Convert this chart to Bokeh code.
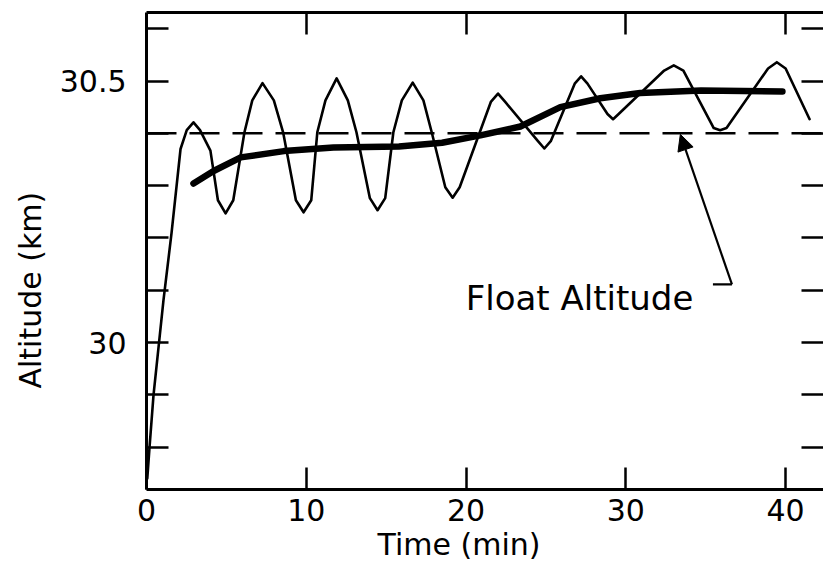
from bokeh.plotting import figure
from bokeh.models import (FixedTicker, LinearAxis, Span, Label, Arrow, NormalHead,
                          Range1d, Title)
from bokeh.embed import file_html
from bokeh.resources import INLINE

# Balloon altitude record: raw (oscillating) trace and smoothed trace
raw_time = [0.05, 0.19, 0.44, 1.06, 1.57, 2.13, 2.52, 2.94, 3.35,
            4.00, 4.47, 4.95, 5.43,
            6.13, 6.62, 7.26, 7.97, 8.55,
            9.35, 9.83, 10.31,
            10.69, 11.20, 11.90, 12.60, 13.14,
            13.98, 14.46, 14.94,
            15.45, 15.98, 16.66, 17.33, 17.85,
            18.70, 19.16, 19.60,
            21.55, 22.00, 22.45,
            24.50, 24.90, 25.30,
            26.80, 27.20, 27.60,
            28.85, 29.20, 29.55,
            32.40, 33.00, 33.60,
            35.50, 35.90, 36.30,
            38.90, 39.45, 40.00,
            41.50]
raw_alt = [29.74, 29.80, 29.90, 30.08, 30.21, 30.37, 30.406, 30.421, 30.406,
           30.367, 30.272, 30.247, 30.272,
           30.402, 30.463, 30.496, 30.463, 30.402,
           30.272, 30.249, 30.272,
           30.402, 30.463, 30.505, 30.463, 30.402,
           30.276, 30.253, 30.276,
           30.402, 30.463, 30.497, 30.463, 30.402,
           30.297, 30.277, 30.297,
           30.460, 30.476, 30.460,
           30.385, 30.371, 30.385,
           30.495, 30.509, 30.495,
           30.437, 30.427, 30.437,
           30.520, 30.530, 30.520,
           30.410, 30.406, 30.410,
           30.524, 30.536, 30.524,
           30.427]

smooth_time = [2.94, 4.2, 5.9, 8.6, 11.7, 15.8, 18.5, 20.9, 23.4, 25.9,
               28.4, 30.9, 34.7, 39.8]
smooth_alt = [30.304, 30.328, 30.354, 30.366, 30.373, 30.375, 30.382, 30.396,
              30.413, 30.450, 30.467, 30.477, 30.482, 30.480]

float_altitude = 30.40

x_ticks = [0, 10, 20, 30, 40]
y_major = [30.0, 30.5]
y_minor = [29.8, 29.9, 30.1, 30.2, 30.3, 30.4, 30.6]
y_tick_labels = {30.0: "30", 30.5: "30.5"}

FONT = "DejaVu Sans"

p = figure(width=823, height=576, output_backend="svg", toolbar_location=None,
           x_axis_location=None, y_axis_location=None,
           min_border_left=146, min_border_right=0, min_border_top=12,
           min_border_bottom=87)
p.x_range = Range1d(0, 42.37)
p.y_range = Range1d(29.719, 30.631)
p.outline_line_color = None
p.xgrid.visible = False
p.ygrid.visible = False
p.background_fill_color = "white"
p.border_fill_color = "white"


def style_axis(ax, show_line=True):
    ax.major_tick_in = 22
    ax.major_tick_out = 0
    ax.minor_tick_in = 22
    ax.minor_tick_out = 0
    ax.major_tick_line_width = 2.5
    ax.minor_tick_line_width = 2.5
    ax.major_tick_line_color = "black"
    ax.minor_tick_line_color = "black"
    ax.axis_line_width = 3
    ax.axis_line_color = "black" if show_line else None
    ax.major_label_text_font = FONT
    ax.major_label_text_font_size = "30px"
    ax.major_label_text_color = "black"


# bottom axis with labels; top axis carries tick marks only
bottom = LinearAxis(ticker=FixedTicker(ticks=x_ticks))
style_axis(bottom)
bottom.major_label_standoff = 9
p.add_layout(bottom, "below")

top = LinearAxis(ticker=FixedTicker(ticks=[], minor_ticks=x_ticks[1:]))
style_axis(top)
top.major_label_standoff = 0
p.add_layout(top, "above")

# left altitude axis with labels; right side has tick marks only
left = LinearAxis(ticker=FixedTicker(ticks=y_major, minor_ticks=y_minor),
                  major_label_overrides=y_tick_labels)
style_axis(left)
left.major_label_standoff = 20
p.add_layout(left, "left")

right = LinearAxis(ticker=FixedTicker(ticks=[], minor_ticks=y_major + y_minor))
style_axis(right, show_line=False)
right.major_label_standoff = 0
p.add_layout(right, "right")

# axis titles
p.add_layout(Title(text="Altitude (km)", align="left", offset=101, standoff=18,
                   text_font=FONT, text_font_size="30px", text_font_style="normal",
                   text_color="black"), "left")
p.add_layout(Title(text="Time (min)", align="left", offset=231, standoff=2,
                   text_font=FONT, text_font_size="30px", text_font_style="normal",
                   text_color="black"), "below")

# float altitude reference
p.add_layout(Span(location=float_altitude, dimension="width", line_color="black",
                  line_width=2.5, line_dash="30 13"))

# traces
p.line(raw_time, raw_alt, line_color="black", line_width=2.6,
       line_join="round", line_cap="round")
p.line(smooth_time, smooth_alt, line_color="black", line_width=6.5,
       line_join="round", line_cap="round")

# annotation with leader
p.line([35.45, 36.64], [30.111, 30.111], line_color="black", line_width=2.2)
p.add_layout(Arrow(x_start=36.64, y_start=30.111, x_end=33.41, y_end=float_altitude - 0.002,
                   line_color="black", line_width=2.2,
                   end=NormalHead(size=16, fill_color="black", line_color="black")))
p.add_layout(Label(x=27.1, y=30.086, text="Float Altitude", text_align="center",
                   text_baseline="alphabetic", text_font=FONT,
                   text_font_size="34px", text_color="black"))

open("out.html", "w").write(file_html(p, INLINE))
